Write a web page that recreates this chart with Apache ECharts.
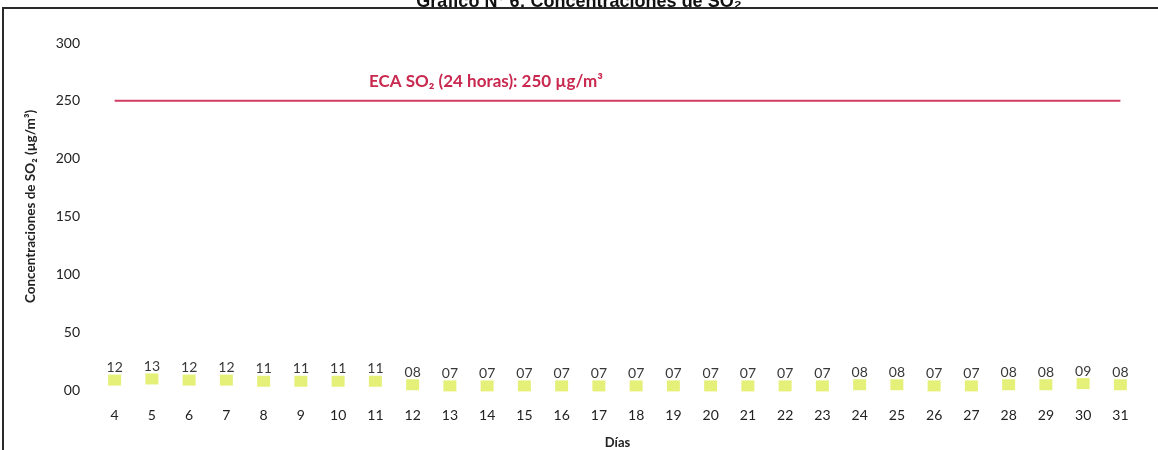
<!DOCTYPE html>
<html>
<head>
<meta charset="utf-8">
<script src="https://cdn.jsdelivr.net/npm/echarts@6/dist/echarts.min.js"></script>
<style>
    html, body { margin: 0; padding: 0; background: #fff; }
    #chart { width: 1158px; height: 450px; }
</style>
</head>
<body>
<div id="chart"></div>
<script>
    // dias del mes
    const dias = ['4', '5', '6', '7', '8', '9', '10', '11', '12', '13', '14', '15', '16', '17',
        '18', '19', '20', '21', '22', '23', '24', '25', '26', '27', '28', '29', '30', '31'];
    // concentraciones SO2 (ug/m3)
    const so2 = [12, 13, 12, 12, 11, 11, 11, 11, 8, 7, 7, 7, 7, 7,
        7, 7, 7, 7, 7, 7, 8, 8, 7, 7, 8, 8, 9, 8];
    // estandar ECA 24 horas
    const eca = dias.map(() => 250);
    const yTicks = [0, 50, 100, 150, 200, 250, 300];

    const pad2 = v => (v < 10 ? '0' + v : String(v));
    const font = 'Lato, "Open Sans", sans-serif';

    const chart = echarts.init(document.getElementById('chart'));
    chart.setOption({
        animation: false,
        title: {
            text: 'Gráfico N° 6: Concentraciones de SO₂',
            left: 'center',
            top: -12,
            textStyle: { fontFamily: 'Liberation Sans, Arial, sans-serif', fontSize: 18, fontWeight: 'bold', color: '#111' }
        },
        graphic: [
            {
                type: 'rect',
                shape: { x: 3, y: 8, width: 1160, height: 450 },
                style: { fill: 'none', stroke: '#2a2a2a', lineWidth: 2 },
                z: 100
            },
            {
                type: 'text',
                left: 369,
                top: 73,
                style: {
                    text: 'ECA SO₂ (24 horas): 250 µg/m³',
                    fill: '#c9284f',
                    font: 'bold 17px ' + font
                }
            }
        ],
        grid: { left: 96, right: 19, top: 43, bottom: 60, outerBoundsMode: 'none' },
        xAxis: {
            type: 'category',
            data: dias,
            name: 'Días',
            nameLocation: 'middle',
            nameGap: 46,
            nameTextStyle: { fontFamily: font, fontSize: 13, fontWeight: 'bold', color: '#222' },
            axisLine: { show: false },
            axisTick: { show: false },
            axisLabel: { fontFamily: font, fontSize: 14, color: '#222', margin: 18 }
        },
        yAxis: {
            type: 'value',
            min: yTicks[0],
            max: yTicks[yTicks.length - 1],
            interval: 50,
            name: 'Concentraciones de SO₂ (µg/m³)',
            nameLocation: 'middle',
            nameGap: 58,
            nameTextStyle: {
                fontFamily: font, fontSize: 13.5, fontWeight: 'bold', color: '#222',
                padding: [0, 0, 0, 20]
            },
            axisLine: { show: false },
            axisTick: { show: false },
            splitLine: { show: false },
            axisLabel: {
                fontFamily: font, fontSize: 14, color: '#222', margin: 16,
                formatter: v => (v === 0 ? '00' : String(v))
            }
        },
        series: [
            {
                name: 'ECA',
                type: 'line',
                data: eca,
                symbol: 'none',
                lineStyle: { color: '#d43d63', width: 2 },
                z: 1
            },
            {
                name: 'SO2',
                type: 'scatter',
                data: so2,
                symbol: 'rect',
                symbolSize: [13, 11],
                symbolOffset: [0, 4],
                itemStyle: { color: '#e2ee6a', opacity: 0.9 },
                label: {
                    show: true,
                    position: 'top',
                    distance: 0,
                    fontFamily: font,
                    fontSize: 14,
                    color: '#222',
                    formatter: p => pad2(p.value)
                },
                z: 2
            }
        ]
    });
</script>
</body>
</html>
